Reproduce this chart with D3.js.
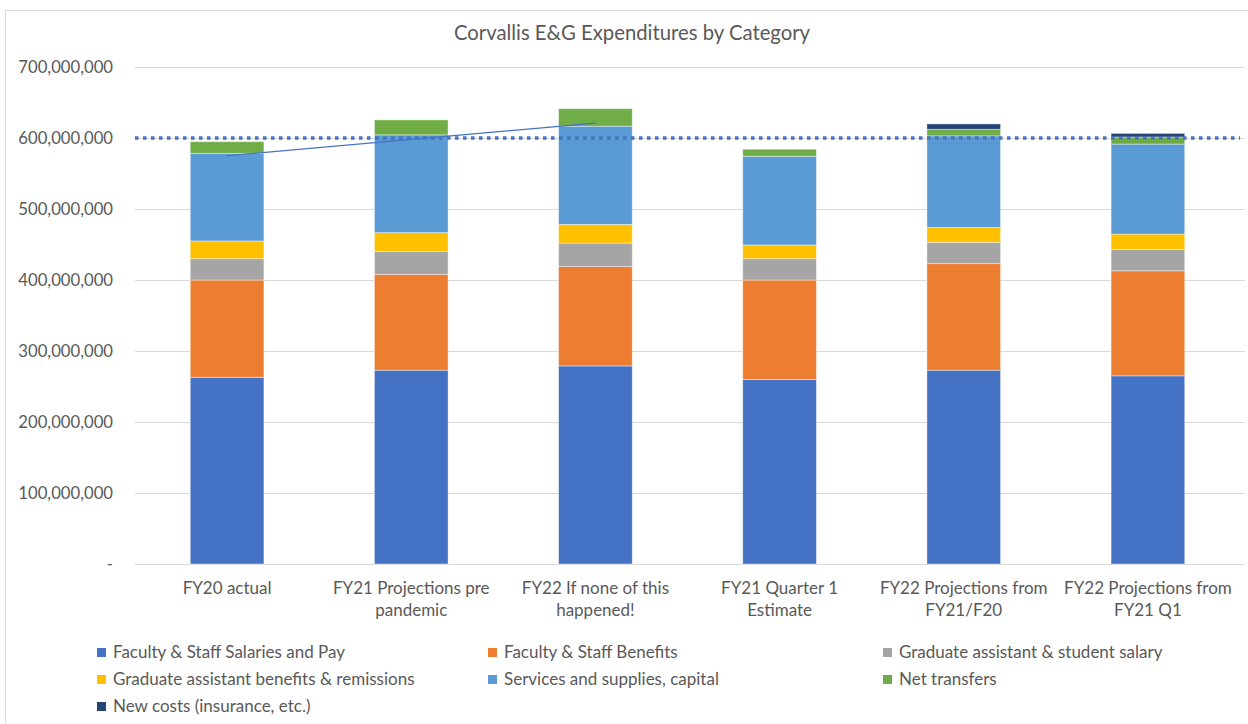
<!DOCTYPE html>
<html><head><meta charset="utf-8">
<script src="https://cdn.jsdelivr.net/npm/d3@7"></script>
<style>
html,body{margin:0;padding:0;background:#fff;}
svg{display:block;font-family:Lato,"Open Sans",sans-serif;}
</style></head>
<body>
<svg id="chart" width="1248" height="724"></svg>
<script>
const categories = [
  ["FY20 actual"],
  ["FY21 Projections pre", "pandemic"],
  ["FY22 If none of this", "happened!"],
  ["FY21 Quarter 1", "Estimate"],
  ["FY22 Projections from", "FY21/F20"],
  ["FY22 Projections from", "FY21 Q1"]
];
const seriesNames = [
  "Faculty & Staff Salaries and Pay",
  "Faculty & Staff Benefits",
  "Graduate assistant & student salary",
  "Graduate assistant benefits & remissions",
  "Services and supplies, capital",
  "Net transfers",
  "New costs (insurance, etc.)"
];
const seriesColors = ["#4472C4","#ED7D31","#A5A5A5","#FFC000","#5B9BD5","#70AD47","#264478"];
const salaries     = [263e6, 273e6, 279e6, 260e6, 273e6, 265e6];
const benefits     = [137e6, 135e6, 140e6, 140e6, 150e6, 148e6];
const gradSalary   = [30e6, 32e6, 33e6, 30e6, 30e6, 30e6];
const gradBenefits = [25e6, 26.7e6, 26.3e6, 19.3e6, 21e6, 21.7e6];
const services     = [123.5e6, 137.7e6, 138.4e6, 125e6, 129e6, 126.7e6];
const netTransfers = [16.3e6, 21.1e6, 24.6e6, 9.9e6, 9.3e6, 10e6];
const newCosts     = [0, 0, 0, 0, 7.5e6, 5.1e6];
const trendValues  = [575e6, 598e6, 621e6];
const targetValue  = 600e6;
const yTicks = [0, 100e6, 200e6, 300e6, 400e6, 500e6, 600e6, 700e6];

const seriesValues = [salaries, benefits, gradSalary, gradBenefits, services, netTransfers, newCosts];
const table = categories.map((c, i) => {
  const row = {cat: i};
  seriesNames.forEach((s, j) => row[s] = seriesValues[j][i]);
  return row;
});

const svg = d3.select("#chart");
const M = {left: 135, right: 1240, top: 67, bottom: 564};
const x = d3.scaleBand().domain(d3.range(categories.length)).range([M.left, M.right]).paddingInner(0.6).paddingOuter(0.3);
const y = d3.scaleLinear().domain([0, 700e6]).range([M.bottom, M.top]);

// border
svg.append("rect").attr("x",5.5).attr("y",10.5).attr("width",1250).attr("height",720)
  .attr("fill","none").attr("stroke","#D9D9D9").attr("stroke-width",1);

// title
svg.append("text").attr("x",632).attr("y",40).attr("text-anchor","middle")
  .attr("font-size",20.3).attr("fill","#595959").text("Corvallis E&G Expenditures by Category");

// gridlines
svg.append("g").selectAll("line").data(yTicks.filter(d => d > 0)).join("line")
  .attr("x1", M.left).attr("x2", 1245)
  .attr("y1", d => Math.round(y(d)) + 0.5).attr("y2", d => Math.round(y(d)) + 0.5)
  .attr("stroke","#D9D9D9").attr("stroke-width",1);

// y axis labels
const yAxis = d3.axisLeft(y).tickValues(yTicks).tickSize(0).tickPadding(0)
  .tickFormat(d => d === 0 ? "-" : d3.format(",")(d));
const ya = svg.append("g").attr("transform", "translate(113,0)").call(yAxis);
ya.select(".domain").remove();
ya.selectAll("text").attr("font-size",16.7).attr("fill","#595959").attr("font-family","Lato,'Open Sans',sans-serif");

// baseline
svg.append("line").attr("x1",M.left).attr("x2",1245).attr("y1",y(0)+0.5).attr("y2",y(0)+0.5)
  .attr("stroke","#D9D9D9");

// stacked bars
const stack = d3.stack().keys(seriesNames)(table);
svg.append("g").selectAll("g").data(stack).join("g")
  .attr("fill", (d, i) => seriesColors[i])
  .selectAll("rect").data(d => d).join("rect")
  .attr("x", d => x(d.data.cat))
  .attr("width", x.bandwidth())
  .attr("y", d => y(d[1]))
  .attr("height", d => Math.max(0, y(d[0]) - y(d[1])))
  .attr("stroke", "#ffffff").attr("stroke-opacity", 0.5).attr("stroke-width", 0.8);

// target dotted line
svg.append("line").attr("x1", M.left).attr("x2", 1240)
  .attr("y1", y(targetValue)).attr("y2", y(targetValue))
  .attr("stroke","#4472C4").attr("stroke-width",3.5).attr("stroke-dasharray","3.5,4.5");

// trend line
const line = d3.line().x((d, i) => x(i) + x.bandwidth()/2).y(d => y(d));
svg.append("path").datum(trendValues).attr("d", line)
  .attr("fill","none").attr("stroke","#4472C4").attr("stroke-width",1.2);

// x labels
const xl = svg.append("g").selectAll("text").data(categories).join("text")
  .attr("x", (d, i) => x(i) + x.bandwidth()/2).attr("y", 594)
  .attr("text-anchor","middle").attr("font-size",17).attr("fill","#595959");
xl.selectAll("tspan").data(d => d).join("tspan")
  .attr("x", function(){ return this.parentNode.getAttribute("x"); })
  .attr("dy", (d, i) => i === 0 ? 0 : 22).text(d => d);

// legend
const legPos = [[97,652],[488,652],[883,652],[97,679],[488,679],[883,679],[97,706]];
const lg = svg.append("g").selectAll("g").data(seriesNames).join("g")
  .attr("transform", (d, i) => `translate(${legPos[i][0]},${legPos[i][1]})`);
lg.append("rect").attr("x",0).attr("y",-4).attr("width",9).attr("height",9)
  .attr("fill", (d, i) => seriesColors[i]);
lg.append("text").attr("x",16).attr("y",6).attr("font-size",17).attr("fill","#595959").text(d => d);
</script>
</body></html>
